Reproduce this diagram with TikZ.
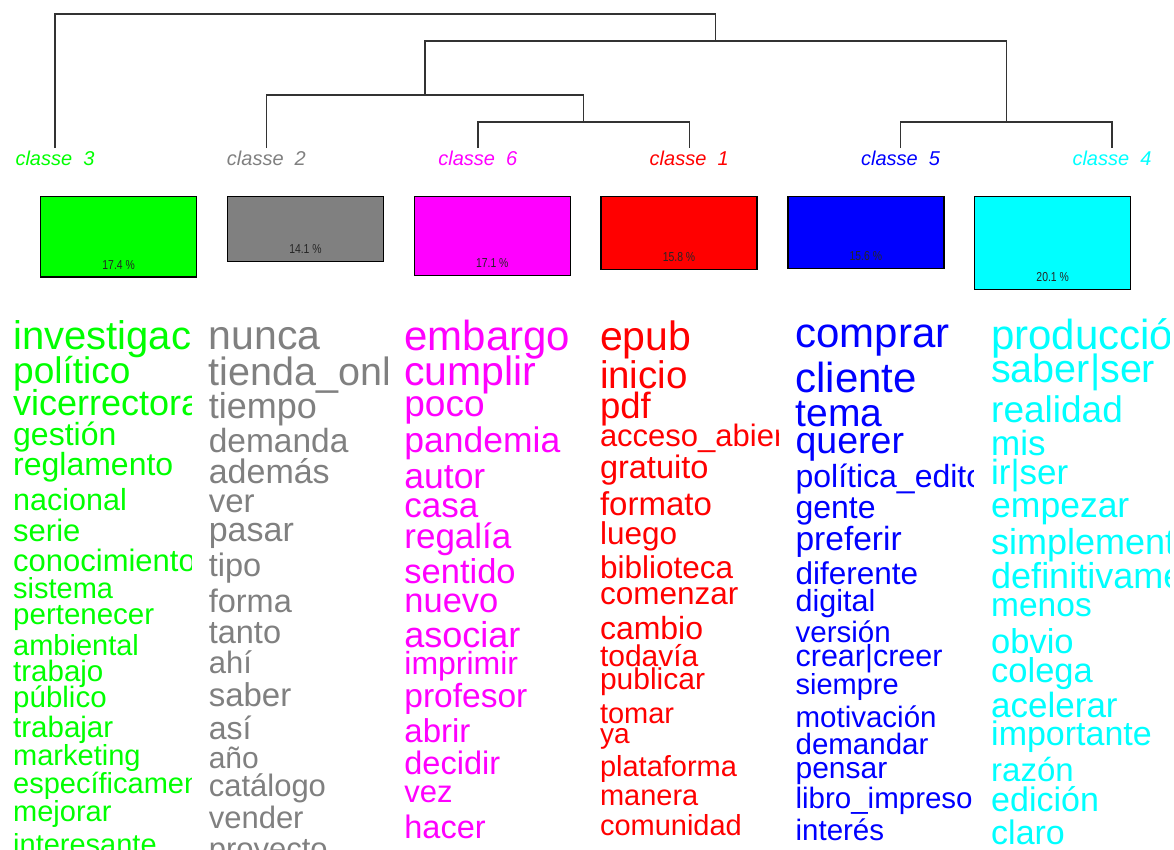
\documentclass[tikz,border=0pt]{standalone}
\usepackage{fontspec}
\usepackage{graphicx}
\setmainfont{Liberation Sans}
\definecolor{magenta}{RGB}{255,0,255}
\definecolor{cyan}{RGB}{0,255,255}

\tikzset{
  leaf/.style={font=\fontsize{20}{20}\selectfont\itshape, anchor=base, inner sep=0pt, text=#1},
  link/.style={draw=black!80, line width=1.4pt},
  bar/.style={draw=black, line width=1.3pt, fill=#1, inner sep=0pt, anchor=north west},
  pct/.style={font=\fontsize{13}{13}\selectfont, inner sep=0pt, text=black!85},
  word/.style={anchor=base west, inner sep=0pt, text=#1},
}

\begin{document}
\begin{tikzpicture}[x=1pt,y=-1pt]
  \useasboundingbox (0,0) rectangle (1174,849);
  % classes and their tips
  \foreach \k/\col/\n in {0/green/3,1/gray/2,2/magenta/6,3/red/1,4/blue/5,5/cyan/4}{
    \coordinate (t\n) at (55+211.4*\k,148);
    \node[leaf=\col] (lab\n) at (55+211.4*\k,165) {classe\ \ \n};
  }
  % dendrogram
  \coordinate (m61) at (583.5,122);
  \coordinate (m54) at (1006.3,122);
  \coordinate (m261) at (424.9,95);
  \coordinate (m2654) at (715.6,41);
  \coordinate (mroot) at (385.3,14);
  \draw[link] (t6) |- (m61) -| (t1);
  \draw[link] (t5) |- (m54) -| (t4);
  \draw[link] (t2) |- (m261) -| (m61);
  \draw[link] (m261) |- (m2654) -| (m54);
  \draw[link] (t3) |- (mroot) -| (m2654);
  % percentages
  \foreach \k/\col/\p/\n in {0/green/17.4/3,1/gray/14.1/2,2/magenta/17.1/6,3/red/15.8/1,4/blue/15.6/5,5/cyan/20.1/4}{
    \node[bar=\col, minimum width=156, minimum height=4.62*\p] (box\n) at (40+186.8*\k,196) {};
    \node[pct] (pct\n) at ([yshift=13pt]box\n.south) {\scalebox{0.8}[1]{\p~\%}};
  }
  % words of each class
  \foreach \k/\col/\words in {
    0/green/{investigación/40/349, político/37/383, vicerrectorado/36/415, gestión/32/445, reglamento/32/475,
      nacional/30.5/510, serie/31/541, conocimiento/31/571, sistema/29/598, pertenecer/29.5/624,
      ambiental/29/655, trabajo/29.5/681, público/29.5/707, trabajar/29.5/737, marketing/29/765,
      específicamente/29/793, mejorar/29/821, interesante/29/854},
    1/gray/{nunca/41/349, tienda\_online/39.5/385, tiempo/36/418, demanda/33.5/452, además/34/483,
      ver/33/512, pasar/34/541, tipo/32.5/576, forma/32.5/612, tanto/32.5/643, ahí/31/673,
      saber/33/706, así/32/739, año/30/768, catálogo/31/796, vender/31/828, proyecto/31/859},
    2/magenta/{embargo/42/350, cumplir/41/385, poco/37/416, pandemia/35.5/452, autor/35.5/488,
      casa/35/517, regalía/35/548, sentido/34.5/583, nuevo/34.5/612, asociar/36/647,
      imprimir/32/674, profesor/33.5/707, abrir/33/742, decidir/32.5/774, vez/31/802, hacer/32.5/838},
    3/red/{epub/41/350, inicio/38.5/388, pdf/36.5/418, acceso\_abierto/31/446, gratuito/32.5/478,
      formato/33/515, luego/31.5/544, biblioteca/31.5/578, comenzar/31.5/604, cambio/32/639,
      todavía/30/666, publicar/30/689, tomar/29/723, ya/28/743, plataforma/29/776,
      manera/29/805, comunidad/29/835},
    4/blue/{comprar/42/347, cliente/42/392, tema/39/426, querer/37.5/453, política\_editorial/32/487,
      gente/32/518, preferir/33.5/550, diferente/31.5/584, digital/30.5/611, versión/29.5/642,
      crear|creer/30.5/666, siempre/29/694, motivación/29.5/727, demandar/29.5/754,
      pensar/30/778, libro\_impreso/29.5/808, interés/29.5/840},
    5/cyan/{producción/42/349, saber|ser/39.5/382, realidad/37/422, mis/35/455, ir|ser/35/484,
      empezar/35.5/517, simplemente/36/554, definitivamente/36/588, menos/33.5/616,
      obvio/34.5/653, colega/34.5/682, acelerar/35/717, importante/34/745, razón/33/781,
      edición/34/811, claro/34/844}}{
    \begin{scope}
      \clip (195.6*\k,300) rectangle (195.6*\k+191.5,849);
      \foreach \w/\s/\y [count=\i] in \words {
        \node[word=\col, font=\fontsize{\s}{\s}\selectfont] (w\k-\i) at (195.6*\k+13,\y) {\w};
      }
    \end{scope}
  }
\end{tikzpicture}
\end{document}
